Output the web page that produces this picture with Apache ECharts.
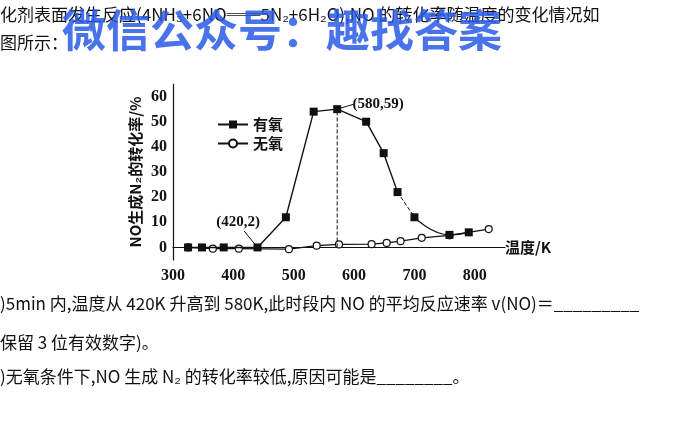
<!DOCTYPE html>
<html lang="en">
<head>
    <meta charset="UTF-8" />
    <title>NO conversion</title>
    <script src="https://cdn.jsdelivr.net/npm/echarts@6.0.0/dist/echarts.min.js"></script>
</head>
<body style="margin:0;background:#fff">
    <div id="main" style="width: 700px; height: 428px"></div>
    <script type="text/javascript">
        // values: [temperature K, conversion %]
        const withO2 = [[325, 0], [348, 0], [384, 0], [440, 0], [487, 12], [533, 54], [572, 55],
            [620, 50], [649, 37.5], [672, 22]];
        const withO2Tail = [[700, 12], [758, 5], [790, 6]];
        const noO2 = [[325, 0], [366, -0.5], [409, -0.5], [492, -0.7], [538, 0.7], [575, 1.2],
            [629, 1.3], [654, 1.8], [677, 2.5], [712, 3.8], [758, 4.8], [823, 7.3]];
        const peakLine = [[572, 0], [572, 55]];
        const notes = [[408, 10, '(420,2)'], [640, 57, '(580,59)']];
        const xTicks = [300, 400, 500, 600, 700, 800];
        const yTicks = [0, 10, 20, 30, 40, 50, 60];

        const cjk = '"Noto Sans CJK SC", sans-serif';
        const serif = '"Liberation Serif", "DejaVu Serif", serif';
        const ink = '#111';

        const textLines = [
            { x: 0, y: 6, t: '化剂表面发生反应(4NH₃+6NO══5N₂+6H₂O),NO 的转化率随温度的变化情况如' },
            { x: 0, y: 34, t: '图所示：' },
            { x: 0, y: 295, t: ')5min 内,温度从 420K 升高到 580K,此时段内 NO 的平均反应速率 v(NO)＝_________' },
            { x: 0, y: 334, t: '保留 3 位有效数字)。' },
            { x: 0, y: 368, t: ')无氧条件下,NO 生成 N₂ 的转化率较低,原因可能是________。' }
        ];

        let myChart = echarts.init(document.getElementById("main"));
        myChart.setOption({
            animation: false,
            backgroundColor: '#fff',
            grid: { left: 173, right: 195, top: 84, bottom: 168 },
            xAxis: {
                type: 'value', min: 300, max: 850, interval: 100,
                axisLine: { lineStyle: { color: ink, width: 1.2 } },
                axisTick: { show: false },
                splitLine: { show: false },
                axisLabel: {
                    color: ink, fontFamily: serif, fontWeight: 'bold', fontSize: 16,
                    showMaxLabel: false,
                    formatter: v => xTicks.includes(v) ? String(v) : ''
                },
                name: '温度/K', nameLocation: 'end', nameGap: 0,
                nameTextStyle: { fontFamily: cjk, fontWeight: 'bold', fontSize: 15, color: ink,
                    padding: [42, 0, 0, 0] }
            },
            yAxis: {
                type: 'value', min: -5, max: 65, interval: 5,
                axisLine: { show: true, lineStyle: { color: ink, width: 1.2 } },
                axisTick: { show: false },
                splitLine: { show: false },
                axisLabel: {
                    color: ink, fontFamily: serif, fontWeight: 'bold', fontSize: 16, margin: 6,
                    formatter: v => yTicks.includes(v) ? String(v) : ''
                },
                name: 'NO生成N₂的转化率/%', nameLocation: 'middle', nameGap: 30,
                nameTextStyle: { fontFamily: cjk, fontWeight: 'bold', fontSize: 15, color: ink }
            },
            legend: {
                left: 212, top: 112, orient: 'vertical', itemGap: 4,
                itemWidth: 30, itemHeight: 10,
                textStyle: { fontFamily: cjk, fontWeight: 'bold', fontSize: 15, color: ink },
                data: ['有氧', '无氧']
            },
            series: [
                {
                    name: '无氧', type: 'line', data: noO2, symbol: 'circle', symbolSize: 7,
                    lineStyle: { color: ink, width: 1.2 },
                    itemStyle: { color: '#fff', borderColor: ink, borderWidth: 1.2 },
                    z: 2
                },
                {
                    name: '有氧', type: 'line', data: withO2, symbol: 'rect', symbolSize: 8,
                    lineStyle: { color: ink, width: 1.4 }, itemStyle: { color: ink },
                    z: 3,
                    markLine: {
                        symbol: 'none', silent: true, label: { show: false },
                        lineStyle: { color: ink, width: 1, type: 'solid' },
                        data: [
                            [{ coord: [418, 6.5] }, { coord: [440, 0] }],
                            [{ coord: [600, 57] }, { coord: [572, 55] }]
                        ]
                    }
                },
                {
                    name: '有氧', type: 'line', data: withO2Tail, symbol: 'rect', symbolSize: 8,
                    smooth: true, lineStyle: { color: ink, width: 1.2 }, itemStyle: { color: ink },
                    z: 3
                },
                {
                    type: 'line', data: [[672, 22], [700, 12]], symbol: 'none',
                    lineStyle: { color: ink, width: 1, type: 'dashed' }
                },
                {
                    type: 'line', data: peakLine, symbol: 'none',
                    lineStyle: { color: ink, width: 1, type: 'dashed' }
                },
                {
                    type: 'scatter', data: notes, symbolSize: 0, silent: true,
                    itemStyle: { color: ink, opacity: 1 },
                    label: { show: true, position: 'inside', color: ink, fontFamily: serif,
                        fontWeight: 'bold', fontSize: 15, formatter: p => p.value[2] }
                }
            ],
            graphic: textLines.map(l => ({
                type: 'text', left: l.x, top: l.y,
                style: { text: l.t, fontFamily: cjk, fontSize: 17, fill: ink }
            })).concat([{
                type: 'text', left: 62, top: 8,
                style: { text: '微信公众号：趣找答案', fontFamily: cjk, fontSize: 44,
                    fontWeight: 'bold', fill: 'rgba(40,90,230,0.85)' }
            }])
        });
    </script>
</body>
</html>
